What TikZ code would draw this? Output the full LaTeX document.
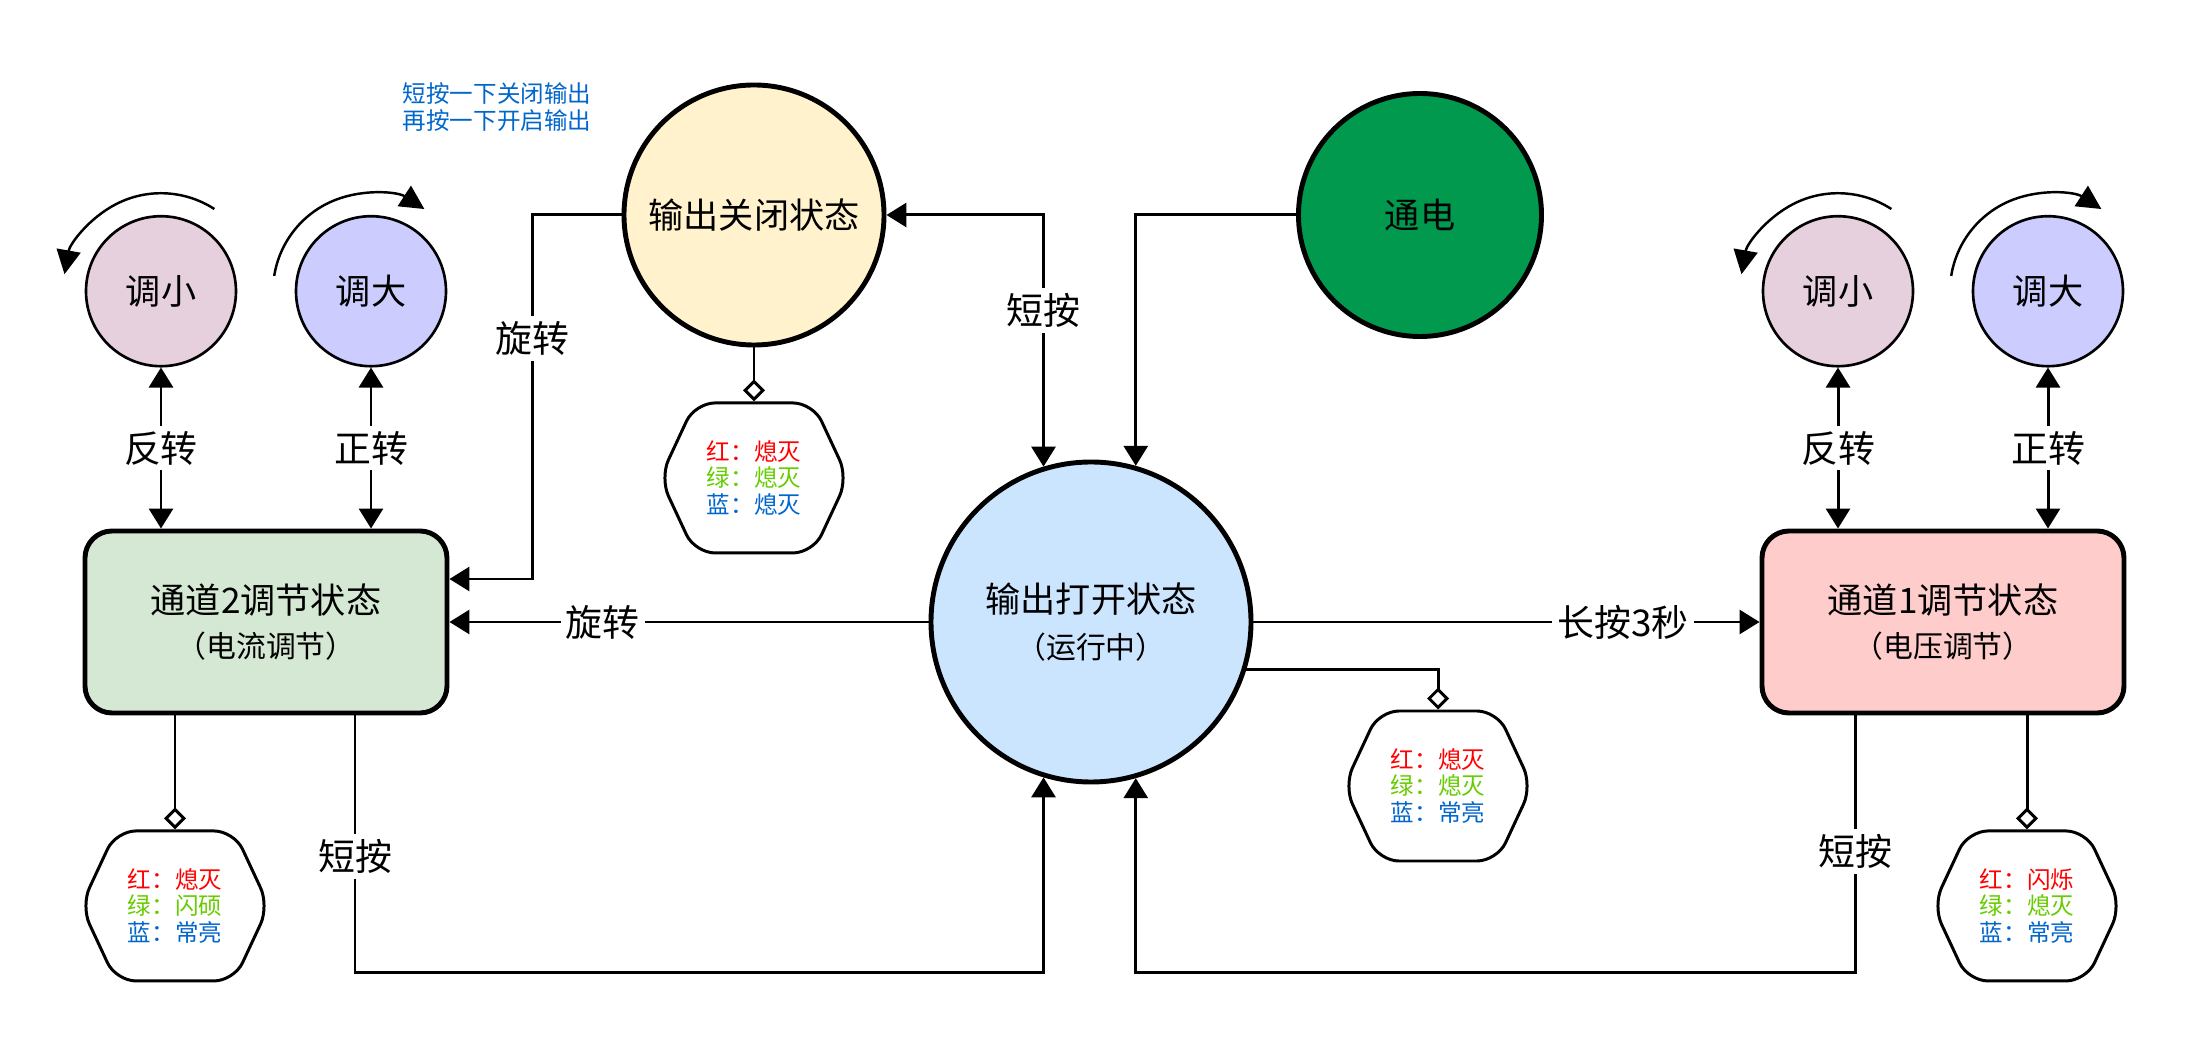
\documentclass[tikz,border=0pt]{standalone}
\usepackage{fontspec}
\newfontfamily\cjk{Noto Sans CJK SC}
\usepackage{xcolor}
\usepackage{tikz}
\usetikzlibrary{arrows.meta,positioning,calc,shapes.symbols}
\definecolor{onfill}{RGB}{204,229,255}
\definecolor{offfill}{RGB}{255,242,204}
\definecolor{powerfill}{RGB}{0,153,77}
\definecolor{chtwofill}{RGB}{213,232,212}
\definecolor{chonefill}{RGB}{255,204,204}
\definecolor{decfill}{RGB}{230,208,222}
\definecolor{incfill}{RGB}{204,204,255}
\definecolor{ledred}{RGB}{255,0,0}
\definecolor{ledgreen}{RGB}{102,204,0}
\definecolor{ledblue}{RGB}{0,102,204}
\newcommand\subline[1]{{\fontsize{8.5}{11}\selectfont #1}}
\newcommand\ledlines[3]{\textcolor{ledred}{红：#1}\\\textcolor{ledgreen}{绿：#2}\\\textcolor{ledblue}{蓝：#3}}
\tikzset{
  bigstate/.style={circle, draw=black, line width=1.4pt, inner sep=0pt,
                   align=center, font=\cjk\fontsize{10}{13}\selectfont},
  chstate/.style={rectangle, rounded corners=0.27cm, draw=black, line width=1.4pt,
                  minimum width=3.62cm, minimum height=1.82cm,
                  align=center, font=\cjk\fontsize{10}{12.5}\selectfont},
  knob/.style={circle, draw=black, line width=0.75pt, minimum size=1.5cm,
               inner sep=0pt, font=\cjk\fontsize{10}{12}\selectfont},
  led/.style={signal, signal to=west and east, signal pointer angle=130,
              rounded corners=0.2cm, draw=black, line width=0.85pt, fill=white,
              minimum width=1.88cm, minimum height=1.5cm,
              align=center, font=\cjk\fontsize{6.7}{7.6}\selectfont},
  note/.style={align=center, text=ledblue, font=\cjk\fontsize{6.7}{7.6}\selectfont},
  lbl/.style={fill=white, inner sep=1.5pt, font=\cjk\fontsize{10.5}{12}\selectfont},
  arrow/.style={-{Triangle[length=2mm,width=2.4mm]}, line width=0.85pt},
  biarrow/.style={{Triangle[length=2mm,width=2.4mm]}-{Triangle[length=2mm,width=2.4mm]},
                  line width=0.85pt},
  spin/.style={-{Triangle[length=2.4mm,width=2.4mm]}, line width=0.7pt},
  hold/.style={-{Diamond[open,length=2.2mm,width=2.2mm]}, line width=0.85pt}
}

\begin{document}
\begin{tikzpicture}
\useasboundingbox (0,0) rectangle (21.87,10.56);
% states
\node[bigstate, fill=onfill, minimum size=3.2cm] (on) at (10.91,4.34) {输出打开状态\\\subline{（运行中）}};
\node[bigstate, fill=offfill, minimum size=2.6cm] (off) at (7.54,8.41) {输出关闭状态};
\node[bigstate, fill=powerfill, minimum size=2.43cm] (power) at (14.20,8.41) {通电};
\node[chstate, fill=chtwofill] (ch2) at (2.66,4.34) {通道2调节状态\\\subline{（电流调节）}};
\node[chstate, fill=chonefill] (ch1) at (19.43,4.34) {通道1调节状态\\\subline{（电压调节）}};

% knobs
\node[knob, fill=decfill, above=1.61cm of ch2.north, xshift=-1.05cm] (dec2) {调小};
\node[knob, fill=incfill, above=1.61cm of ch2.north, xshift=1.05cm] (inc2) {调大};
\node[knob, fill=decfill, above=1.61cm of ch1.north, xshift=-1.05cm] (dec1) {调小};
\node[knob, fill=incfill, above=1.61cm of ch1.north, xshift=1.05cm] (inc1) {调大};

% led boxes
\node[led, below=0.54cm of off] (ledoff) {\ledlines{熄灭}{熄灭}{熄灭}};
\node[led, below=1.14cm of ch2.south, xshift=-0.91cm] (led2) {\ledlines{熄灭}{闪硕}{常亮}};
\node[led, below=1.14cm of ch1.south, xshift=0.84cm] (led1) {\ledlines{闪烁}{熄灭}{常亮}};
\node[led] (ledon) at (14.38,2.70) {\ledlines{熄灭}{熄灭}{常亮}};

\node[note] (tip) at (4.97,9.49) {短按一下关闭输出\\再按一下开启输出};

% transitions
\draw[arrow] (power.west) -| (on.74);
\draw[biarrow] (off.east) -| node[lbl, pos=0.69] {短按} (on.107);
\draw[arrow] (off.west) -- ++(-0.89,0) |- node[lbl, pos=0.17] {旋转} ([yshift=0.43cm]ch2.east);
\draw[arrow] (on.west) -- node[lbl, pos=0.68] {旋转} (ch2.east);
\draw[arrow] (on.east) -- node[lbl, pos=0.73] {长按3秒} (ch1.west);
\draw[arrow] ([xshift=0.89cm]ch2.south) -- node[lbl, pos=0.55] {短按} ++(0,-2.57) -| (on.-107);
\draw[arrow] ([xshift=-0.88cm]ch1.south) -- node[lbl, pos=0.53] {短按} ++(0,-2.57) -| (on.-74);

\draw[biarrow] (dec2) -- node[lbl] {反转} (dec2 |- ch2.north);
\draw[biarrow] (inc2) -- node[lbl] {正转} (inc2 |- ch2.north);
\draw[biarrow] (dec1) -- node[lbl] {反转} (dec1 |- ch1.north);
\draw[biarrow] (inc1) -- node[lbl] {正转} (inc1 |- ch1.north);

% turning hints
\draw[spin] ($(dec2)+(57:0.98)$) arc[start angle=57, end angle=170, radius=0.98cm];
\draw[spin] ($(inc2)+(171:0.98)$) arc[start angle=171, end angle=57, radius=0.98cm];
\draw[spin] ($(dec1)+(57:0.98)$) arc[start angle=57, end angle=170, radius=0.98cm];
\draw[spin] ($(inc1)+(171:0.98)$) arc[start angle=171, end angle=57, radius=0.98cm];

% led states
\draw[hold] (off.south) -- (ledoff.north);
\draw[hold] (led2.north |- ch2.south) -- (led2.north);
\draw[hold] (led1.north |- ch1.south) -- (led1.north);
\draw[hold] (on.-17) -| (ledon.north);
\end{tikzpicture}
\end{document}
